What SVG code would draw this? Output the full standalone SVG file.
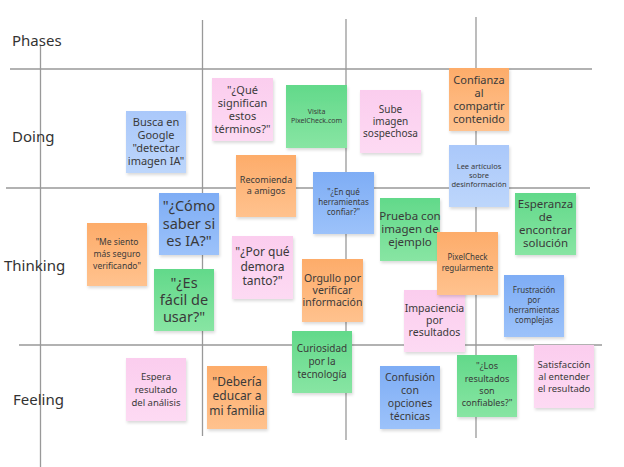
<svg xmlns="http://www.w3.org/2000/svg" width="624" height="467" viewBox="0 0 624 467">
<defs>
<linearGradient id="gBlue" x1="0" y1="0" x2="0" y2="1"><stop offset="0" stop-color="#7eadf5"/><stop offset="1" stop-color="#9cc2fa"/></linearGradient>
<linearGradient id="gLBlue" x1="0" y1="0" x2="0" y2="1"><stop offset="0" stop-color="#aac8fa"/><stop offset="1" stop-color="#bdd6fb"/></linearGradient>
<linearGradient id="gGreen" x1="0" y1="0" x2="0" y2="1"><stop offset="0" stop-color="#62d98a"/><stop offset="1" stop-color="#88e5a3"/></linearGradient>
<linearGradient id="gPink" x1="0" y1="0" x2="0" y2="1"><stop offset="0" stop-color="#fbcdee"/><stop offset="1" stop-color="#fddaf3"/></linearGradient>
<linearGradient id="gOrange" x1="0" y1="0" x2="0" y2="1"><stop offset="0" stop-color="#fdac6a"/><stop offset="1" stop-color="#ffc28e"/></linearGradient>
<filter id="sh" x="-20%" y="-20%" width="140%" height="140%"><feDropShadow dx="1" dy="2" stdDeviation="1.5" flood-color="#000" flood-opacity="0.15"/></filter>
</defs>
<style>
.grid line{stroke:#999;stroke-width:1.3}
.lbl{font-family:"Noto Sans","Open Sans","DejaVu Sans",sans-serif;font-size:15px;fill:#333}
.n rect{filter:url(#sh)}
.n text{font-family:"Noto Sans","Open Sans","DejaVu Sans",sans-serif;fill:#3a3a3a;text-anchor:middle}
.blue{fill:url(#gBlue)}
.lblue{fill:url(#gLBlue)}
.green{fill:url(#gGreen)}
.pink{fill:url(#gPink)}
.orange{fill:url(#gOrange)}
</style>
<rect width="624" height="467" fill="#fff"/>
<g id="connectors" class="grid">
<line x1="10" y1="69" x2="592" y2="69"/>
<line x1="6" y1="188" x2="590" y2="188"/>
<line x1="19" y1="345" x2="602" y2="345"/>
<line x1="40.5" y1="45" x2="40.5" y2="467"/>
<line x1="202.5" y1="20" x2="202.5" y2="436"/>
<line x1="346" y1="19" x2="346" y2="440"/>
<line x1="476" y1="17" x2="476" y2="438"/>
</g>
<g id="labels">
<text class="lbl" x="12" y="46">Phases</text>
<text class="lbl" x="12" y="142">Doing</text>
<text class="lbl" x="4" y="271">Thinking</text>
<text class="lbl" x="13" y="405">Feeling</text>
</g>
<g id="n1" class="n"><rect class="lblue" x="126" y="111" width="60" height="62"/><text font-size="11"><tspan x="156" y="126">Busca en</tspan><tspan x="156" y="139">Google</tspan><tspan x="156" y="152">"detectar</tspan><tspan x="156" y="165">imagen IA"</tspan></text></g>
<g id="n2" class="n"><rect class="pink" x="212" y="78" width="61" height="63"/><text font-size="11"><tspan x="242.5" y="94">"¿Qué</tspan><tspan x="242.5" y="107">significan</tspan><tspan x="242.5" y="120">estos</tspan><tspan x="242.5" y="133">términos?"</tspan></text></g>
<g id="n3" class="n"><rect class="green" x="286" y="85" width="61" height="63"/><text font-size="7"><tspan x="316.5" y="113.5">Visita</tspan><tspan x="316.5" y="122.5">PixelCheck.com</tspan></text></g>
<g id="n4" class="n"><rect class="pink" x="360" y="90" width="61" height="63"/><text font-size="10"><tspan x="390.5" y="112.5">Sube</tspan><tspan x="390.5" y="124.5">imagen</tspan><tspan x="390.5" y="136.5">sospechosa</tspan></text></g>
<g id="n5" class="n"><rect class="orange" x="449" y="68" width="60" height="63"/><text font-size="11"><tspan x="479" y="84">Confianza</tspan><tspan x="479" y="97">al</tspan><tspan x="479" y="110">compartir</tspan><tspan x="479" y="123">contenido</tspan></text></g>
<g id="n6" class="n"><rect class="orange" x="236" y="155" width="60" height="62"/><text font-size="9"><tspan x="266" y="183">Recomienda</tspan><tspan x="266" y="194">a amigos</tspan></text></g>
<g id="n7" class="n"><rect class="blue" x="313" y="172" width="61" height="62"/><text font-size="8"><tspan x="343.5" y="195">"¿En qué</tspan><tspan x="343.5" y="205">herramientas</tspan><tspan x="343.5" y="215">confiar?"</tspan></text></g>
<g id="n8" class="n"><rect class="lblue" x="449" y="145" width="60" height="62"/><text font-size="7.5"><tspan x="479" y="168.5">Lee artículos</tspan><tspan x="479" y="177.5">sobre</tspan><tspan x="479" y="186.5">desinformación</tspan></text></g>
<g id="n9" class="n"><rect class="blue" x="159" y="193" width="60" height="62"/><text font-size="14.5"><tspan x="189" y="211">"¿Cómo</tspan><tspan x="189" y="229">saber si</tspan><tspan x="189" y="246">es IA?"</tspan></text></g>
<g id="n10" class="n"><rect class="orange" x="87" y="223" width="60" height="63"/><text font-size="8.5"><tspan x="117" y="245">"Me siento</tspan><tspan x="117" y="257">más seguro</tspan><tspan x="117" y="269">verificando"</tspan></text></g>
<g id="n11" class="n"><rect class="green" x="154" y="269" width="60" height="62"/><text font-size="14.5"><tspan x="184" y="288">"¿Es</tspan><tspan x="184" y="305">fácil de</tspan><tspan x="184" y="322">usar?"</tspan></text></g>
<g id="n12" class="n"><rect class="pink" x="232" y="236" width="61" height="63"/><text font-size="12"><tspan x="262.5" y="256">"¿Por qué</tspan><tspan x="262.5" y="271">demora</tspan><tspan x="262.5" y="285">tanto?"</tspan></text></g>
<g id="n13" class="n"><rect class="green" x="380" y="198" width="60" height="63"/><text font-size="11.5"><tspan x="410" y="220">Prueba con</tspan><tspan x="410" y="233">imagen de</tspan><tspan x="410" y="246">ejemplo</tspan></text></g>
<g id="n14" class="n"><rect class="green" x="515" y="193" width="61" height="62"/><text font-size="11.5"><tspan x="545.5" y="208">Esperanza</tspan><tspan x="545.5" y="221">de</tspan><tspan x="545.5" y="234">encontrar</tspan><tspan x="545.5" y="247">solución</tspan></text></g>
<g id="n17" class="n"><rect class="pink" x="404" y="290" width="61" height="62"/><text font-size="10.5"><tspan x="434.5" y="311.5">Impaciencia</tspan><tspan x="434.5" y="323.5">por</tspan><tspan x="434.5" y="335.5">resultados</tspan></text></g>
<g id="n15" class="n"><rect class="orange" x="437" y="232" width="61" height="63"/><text font-size="8"><tspan x="467.5" y="260">PixelCheck</tspan><tspan x="467.5" y="271">regularmente</tspan></text></g>
<g id="n16" class="n"><rect class="orange" x="302" y="259" width="61" height="63"/><text font-size="10.5"><tspan x="332.5" y="281.5">Orgullo por</tspan><tspan x="332.5" y="293.5">verificar</tspan><tspan x="332.5" y="305.5">información</tspan></text></g>
<g id="n18" class="n"><rect class="blue" x="504" y="275" width="60" height="62"/><text font-size="8"><tspan x="534" y="293">Frustración</tspan><tspan x="534" y="303">por</tspan><tspan x="534" y="313">herramientas</tspan><tspan x="534" y="323">complejas</tspan></text></g>
<g id="n19" class="n"><rect class="green" x="292" y="331" width="60" height="62"/><text font-size="10"><tspan x="322" y="351.5">Curiosidad</tspan><tspan x="322" y="364.5">por la</tspan><tspan x="322" y="377.5">tecnología</tspan></text></g>
<g id="n20" class="n"><rect class="pink" x="126" y="358" width="60" height="63"/><text font-size="9.5"><tspan x="156" y="379.5">Espera</tspan><tspan x="156" y="392.5">resultado</tspan><tspan x="156" y="405.5">del análisis</tspan></text></g>
<g id="n21" class="n"><rect class="orange" x="207" y="366" width="60" height="63"/><text font-size="12"><tspan x="237" y="386">"Debería</tspan><tspan x="237" y="400">educar a</tspan><tspan x="237" y="415">mi familia</tspan></text></g>
<g id="n22" class="n"><rect class="blue" x="380" y="366" width="60" height="63"/><text font-size="10.5"><tspan x="410" y="380.5">Confusión</tspan><tspan x="410" y="393.5">con</tspan><tspan x="410" y="406.5">opciones</tspan><tspan x="410" y="419.5">técnicas</tspan></text></g>
<g id="n23" class="n"><rect class="green" x="457" y="355" width="60" height="62"/><text font-size="9"><tspan x="487" y="369">"¿Los</tspan><tspan x="487" y="382">resultados</tspan><tspan x="487" y="394">son</tspan><tspan x="487" y="406">confiables?"</tspan></text></g>
<g id="n24" class="n"><rect class="pink" x="534" y="345" width="60" height="63"/><text font-size="9.5"><tspan x="564" y="367.5">Satisfacción</tspan><tspan x="564" y="379.5">al entender</tspan><tspan x="564" y="391.5">el resultado</tspan></text></g>
</svg>
